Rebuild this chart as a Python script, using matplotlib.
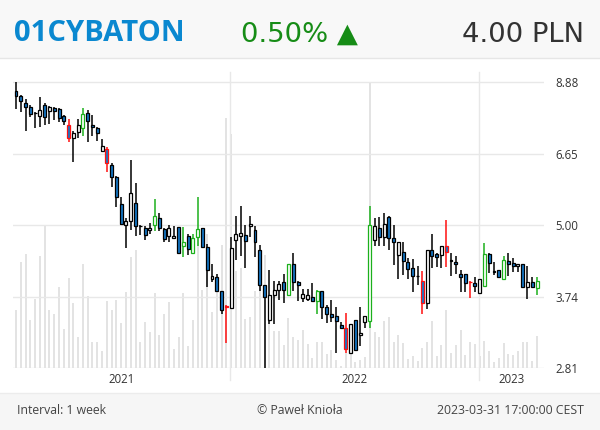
import numpy as np
import pandas as pd
import matplotlib
matplotlib.use('Agg')
import matplotlib.pyplot as plt
from matplotlib.patches import Rectangle
from matplotlib.transforms import blended_transform_factory

# weekly candles for 01CYBATON (PLN)
opens = [8.57, 8.40, 8.19, 8.05, 7.85, 7.76, 8.11, 7.90, 8.02, 7.97,
         7.76, 7.48, 7.09, 7.27, 7.40, 7.86, 7.48, 7.40, 6.75, 6.80,
         6.36, 6.08, 5.44, 5.01, 5.08, 5.46, 4.99, 4.95, 4.91, 5.01,
         5.15, 4.92, 4.79, 4.74, 4.96, 4.59, 4.78, 4.47, 4.76, 4.94,
         4.57, 4.03, 4.05, 3.83, 3.61, 3.58, 4.70, 4.79, 4.81, 4.98,
         4.90, 4.52, 3.93, 3.41, 3.77, 3.85, 3.97, 3.78, 4.27, 3.98,
         3.73, 3.72, 3.74, 3.69, 3.84, 3.59, 3.49, 3.47, 3.35, 3.31,
         2.99, 3.41, 3.21, 3.39, 3.40, 4.71, 4.94, 4.77, 5.17, 4.74,
         4.44, 4.49, 4.31, 4.20, 4.08, 3.99, 3.65, 4.53, 4.45, 4.44,
         4.60, 4.34, 4.31, 4.10, 4.10, 3.98, 3.96, 3.80, 3.91, 4.46,
         4.15, 4.18, 4.03, 4.32, 4.29, 4.24, 4.28, 3.89, 3.97, 3.88]
highs = [8.88, 8.43, 8.32, 8.11, 7.88, 8.39, 8.16, 8.08, 8.05, 8.00,
         7.80, 7.65, 7.29, 7.65, 8.02, 7.94, 7.80, 7.42, 7.06, 6.85,
         6.41, 6.10, 5.60, 5.15, 6.50, 5.92, 5.00, 4.99, 5.05, 5.55,
         5.24, 4.95, 5.00, 4.99, 4.96, 4.96, 4.82, 4.82, 5.60, 4.94,
         4.64, 4.27, 4.11, 3.84, 3.62, 4.77, 5.19, 5.40, 5.01, 5.19,
         4.99, 4.61, 3.93, 4.18, 4.00, 4.00, 4.10, 4.27, 4.47, 4.00,
         3.86, 3.86, 3.96, 3.85, 3.84, 3.62, 3.70, 3.59, 3.39, 3.51,
         3.36, 3.41, 3.59, 3.47, 5.39, 5.15, 5.17, 5.24, 5.19, 5.01,
         4.68, 4.67, 4.38, 4.36, 4.24, 4.16, 4.53, 4.83, 4.47, 4.60,
         5.10, 4.47, 4.42, 4.17, 4.10, 4.00, 4.05, 4.02, 4.65, 4.47,
         4.31, 4.18, 4.41, 4.47, 4.38, 4.28, 4.28, 4.24, 4.05, 4.05]
lows = [7.99, 7.87, 7.29, 7.73, 7.38, 7.42, 7.48, 7.50, 7.63, 7.58,
        7.48, 6.98, 6.44, 7.09, 7.17, 7.00, 7.17, 7.02, 6.71, 6.19,
        5.84, 5.37, 5.01, 4.56, 4.90, 4.78, 4.80, 4.71, 4.83, 4.88,
        4.88, 4.68, 4.68, 4.74, 4.47, 4.39, 4.44, 4.47, 4.60, 4.57,
        3.89, 3.98, 3.83, 3.50, 3.11, 3.58, 4.34, 4.42, 4.20, 4.77,
        4.39, 3.83, 2.81, 3.36, 3.36, 3.70, 3.65, 3.78, 3.84, 3.68,
        3.67, 3.68, 3.68, 3.49, 3.43, 3.37, 3.39, 2.99, 3.31, 2.99,
        2.99, 3.03, 3.07, 3.30, 3.31, 4.60, 4.59, 4.60, 4.52, 4.26,
        4.02, 4.09, 4.03, 3.82, 3.93, 3.49, 3.57, 4.21, 4.22, 4.21,
        4.22, 4.08, 4.11, 3.82, 3.82, 3.73, 3.82, 3.80, 3.91, 4.12,
        4.09, 4.05, 4.02, 4.08, 4.14, 4.14, 3.89, 3.71, 3.89, 3.78]
closes = [8.40, 8.25, 8.05, 7.83, 7.84, 7.96, 7.74, 8.03, 7.92, 7.68,
          7.60, 7.09, 7.24, 7.47, 7.83, 7.59, 7.41, 7.24, 6.88, 6.41,
          6.08, 5.60, 5.02, 5.09, 5.68, 4.99, 4.98, 4.81, 4.95, 5.19,
          4.94, 4.72, 4.94, 4.78, 4.47, 4.68, 4.54, 4.74, 4.92, 4.57,
          4.17, 4.07, 3.84, 3.56, 3.60, 4.56, 4.83, 4.84, 4.69, 5.03,
          4.67, 3.93, 3.75, 3.77, 3.85, 3.94, 3.85, 4.27, 3.98, 3.93,
          3.79, 3.78, 3.69, 3.84, 3.59, 3.49, 3.45, 3.40, 3.31, 3.04,
          3.36, 3.03, 3.24, 3.47, 5.01, 4.99, 4.77, 5.03, 4.74, 4.68,
          4.67, 4.33, 4.19, 4.08, 4.07, 3.66, 4.53, 4.42, 4.39, 4.60,
          4.48, 4.33, 4.28, 4.05, 3.96, 3.97, 3.91, 4.02, 4.46, 4.29,
          4.14, 4.05, 4.35, 4.28, 4.24, 4.28, 3.89, 3.97, 3.89, 4.00]
# weekly volume, % of the busiest week
volume = [20.4, 37.1, 39.9, 16.9, 24.1, 39.1, 50.0, 20.4, 18.9, 28.3,
          13.7, 31.5, 22.7, 10.8, 36.4, 25.3, 9.1, 9.1, 6.2, 23.4,
          20.4, 23.9, 15.7, 26.6, 39.0, 41.2, 9.1, 16.3, 12.8, 26.5,
          11.6, 18.9, 23.3, 6.6, 11.1, 26.2, 7.9, 16.8, 47.1, 27.3,
          47.0, 19.8, 27.5, 43.0, 87.5, 81.9, 34.0, 35.0, 17.3, 18.0,
          26.9, 30.5, 39.7, 17.5, 13.0, 13.0, 8.1, 17.5, 10.8, 9.9,
          13.4, 8.5, 3.7, 9.3, 9.1, 4.9, 6.4, 2.9, 0.9, 5.2,
          5.6, 2.3, 2.9, 4.1, 100.0, 12.6, 10.8, 16.5, 17.8, 9.3,
          11.6, 8.8, 3.1, 4.3, 2.7, 7.0, 9.3, 16.6, 4.3, 8.1,
          20.4, 5.5, 8.1, 13.4, 4.7, 9.1, 8.4, 4.3, 9.6, 6.1,
          2.3, 3.7, 8.7, 4.9, 4.7, 6.2, 9.3, 9.1, 2.4, 11.4]
# weeks flagged as strong up / strong down moves (0-based)
alert_up = [14, 29, 35, 37, 38, 57, 63, 74, 98, 102, 109]
alert_down = [11, 19, 44, 69, 85, 90, 95]

price_ticks = [2.81, 3.74, 5.00, 6.65, 8.88]
years = [2021, 2022, 2023]

weeks = pd.date_range('2021-02-22', periods=len(closes), freq='7D')
x = np.arange(len(closes))

W, H = 600, 430
fig = plt.figure(figsize=(W / 100, H / 100), dpi=100)


def fx(px):
    return px / W


def fy(py):
    return 1 - py / H


# header and footer bands
fig.add_artist(Rectangle((0, fy(58)), 1, 58 / H, transform=fig.transFigure,
                         facecolor='#f8f8f8', edgecolor='none', zorder=0))
fig.add_artist(plt.Line2D([0, 1], [fy(58), fy(58)], transform=fig.transFigure,
                          color='#e6e6e6', lw=1))
fig.add_artist(Rectangle((0, 0), 1, fy(393), transform=fig.transFigure,
                         facecolor='#f6f6f6', edgecolor='none', zorder=0))
fig.add_artist(plt.Line2D([0, 1], [fy(393), fy(393)], transform=fig.transFigure,
                          color='#ececec', lw=1))

rect = [fx(13), fy(368.3), fx(531), (368.3 - 72) / H]
ax = fig.add_axes(rect)
ax_vol = ax.twinx()
ax.set_zorder(ax_vol.get_zorder() + 1)
ax.patch.set_visible(False)

left, right = -0.63, len(x) - 1 + 1.46
ax.set_xlim(left, right)
ax.set_yscale('log')
ax.set_ylim(2.81, 9.26)

# volume bars behind the candles
ax_vol.bar(x, volume, width=0.42, color='#e3e3e3', linewidth=0)
ax_vol.set_ylim(0, max(volume) * (368.3 - 72) / (368.3 - 82.3))
ax_vol.set_yticks([])
for a in (ax, ax_vol):
    for s in a.spines.values():
        s.set_visible(False)

# grid
for t in price_ticks:
    ax.axhline(t, color='#e8e8e8', lw=1, zorder=0)

# year boundaries and labels
day = (weeks[1] - weeks[0]).days
starts = [(pd.Timestamp(f'{y}-01-01') - weeks[0]).days / day for y in years[1:]]
edges = [left] + starts + [right]
trans = blended_transform_factory(ax.transData, ax.transAxes)
for b in starts:
    ax.plot([b, b], [-0.04, 1], transform=trans, color='#e8e8e8', lw=1,
            clip_on=False, zorder=0)
for i, y in enumerate(years):
    ax.text((edges[i] + edges[i + 1]) / 2, -0.037, str(y), transform=trans,
            ha='center', va='center', fontsize=8.3, color='#333333',
            family='Open Sans')

# candles
up_set, down_set = set(alert_up), set(alert_down)
edge = []
fill = []
for i in range(len(closes)):
    if i in up_set:
        edge.append('#1cb01c')
    elif i in down_set:
        edge.append('#ff1010')
    else:
        edge.append('black')
    fill.append('#1478c8' if closes[i] < opens[i] else 'white')

o = np.array(opens)
c = np.array(closes)
ax.vlines(x, lows, highs, colors=edge, lw=1.1, zorder=2)
ax.bar(x, np.abs(c - o), bottom=np.minimum(o, c), width=0.62, color=fill,
       edgecolor=edge, linewidth=0.9, zorder=3)

ax.set_xticks([])
ax.yaxis.tick_right()
ax.set_yticks(price_ticks)
ax.set_yticklabels([f'{t:.2f}' for t in price_ticks])
ax.minorticks_off()
ax.tick_params(axis='y', length=0, pad=8, labelsize=8.3, labelcolor='#333333')
for lab in ax.get_yticklabels():
    lab.set_family('Open Sans')

# header
fig.text(fx(14), fy(41), '01CYBATON', fontsize=21, fontweight='bold',
         color='#0a88d0', family='Open Sans', va='baseline')
fig.text(fx(241), fy(41.5), '0.50% \u25b2', fontsize=19.7, color='#168c16',
         family='DejaVu Sans', va='baseline')
fig.text(fx(584), fy(41.5), '4.00 PLN', fontsize=19.7, color='#333333',
         family='DejaVu Sans', va='baseline', ha='right')

# footer
fig.text(fx(17), fy(410), 'Interval: 1 week', fontsize=8.8, color='#444444',
         family='Open Sans', va='center')
fig.text(fx(300), fy(410), '\u00a9 Pawe\u0142 Knio\u0142a', fontsize=8.8,
         color='#444444', family='Open Sans', va='center', ha='center')
fig.text(fx(584), fy(410), '2023-03-31 17:00:00 CEST', fontsize=8.8,
         color='#444444', family='Open Sans', va='center', ha='right')

fig.savefig('out.png', dpi=100)
